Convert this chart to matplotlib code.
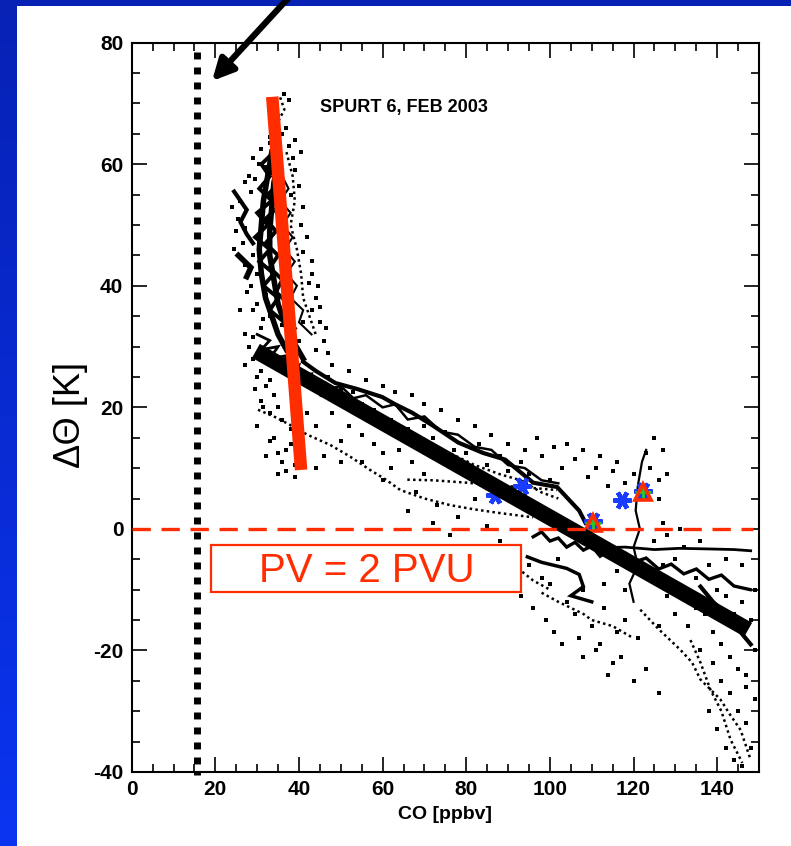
import numpy as np
import matplotlib
matplotlib.use('Agg')
import matplotlib.pyplot as plt
from matplotlib.colors import LinearSegmentedColormap
from matplotlib.patches import Rectangle
from matplotlib.ticker import MultipleLocator

plt.rcParams['font.family'] = ['Liberation Sans', 'DejaVu Sans']
plt.rcParams['axes.unicode_minus'] = False

# --- data (CO in ppbv, delta theta in K) ---
band_core_a_co = [33.5, 32.5, 31.5, 31, 30.5, 31, 32, 33.5, 35, 37]
band_core_a_dth = [62, 58, 54, 50, 46, 42, 38, 35, 32, 29.5]
band_core_b_co = [35, 34, 33.5, 33, 33, 34, 35, 36.5, 38.5, 41]
band_core_b_dth = [60, 57, 53, 49, 45, 41, 37, 34, 31, 28]
zig_a_co = [34, 31, 33, 30.5, 33.5, 30, 32.5, 29.5, 33, 30.5, 34, 31.5, 35, 33, 36.5]
zig_a_dth = [62, 60, 58, 56, 54, 52, 50, 48, 46, 44, 42, 40, 38, 36, 34]
zig_b_co = [35.5, 33, 35.5, 32.5, 35, 32, 34.5, 32, 35, 33, 36, 34.5, 37.5, 36, 39]
zig_b_dth = [61, 59, 57, 55, 53, 51, 49, 47, 45, 43, 41, 39, 37, 35, 33]
zig_c_co = [36, 37.5, 35.5, 38, 36, 38.5, 36.5, 39, 37, 39.5, 38, 41, 40, 43]
zig_c_dth = [58, 56, 54, 52, 50, 48, 46, 44, 42, 40, 38, 36, 34, 32]
band_right_co = [37, 38.5, 39, 38, 39.5, 40.5, 41, 42.5, 44]
band_right_dth = [62, 58, 54, 50, 46, 42, 38, 35, 32]
band_top_co = [35.5, 36.5, 35, 34.5, 35]
band_top_dth = [71, 69, 67, 64, 61]
left_blob_co = [24.5, 26, 27.5, 26, 27.5, 29]
left_blob_dth = [55.5, 54, 52.5, 50.5, 48.5, 47]
left_blob2_co = [25.5, 27, 28.5, 27.5]
left_blob2_dth = [45, 44, 43, 41.5]
trans_co = [30, 33, 31, 35, 33, 37, 36, 40, 39, 43, 42, 46, 45, 49]
trans_dth = [32, 31, 29.5, 30, 28, 28.5, 26.5, 27, 25, 25.5, 23.5, 24, 22.5, 23]

tongue_co = [41, 44, 48.7, 54, 59.9, 63, 67.1, 72, 78.1, 84, 89.3, 96, 101.7, 107, 108.5]
tongue_dth = [27.5, 26, 24, 23, 21.7, 20.5, 19.1, 17, 14.2, 12.5, 11.4, 7.6, 6.9, 3, 1]
tongue2_co = [44, 47, 50, 53, 56, 60, 63, 66, 70, 74, 78, 82, 86, 90, 94, 98, 102]
tongue2_dth = [24.5, 23, 23.5, 21.5, 22, 20, 20.5, 18, 18.5, 16, 15.5, 13.5, 13, 10.5, 10, 8, 7.5]
tongue_low_co = [45, 52, 58, 64, 70, 76, 82, 88, 93, 98, 102]
tongue_low_dth = [22, 20, 18.5, 16.5, 14, 12.5, 10.5, 9, 8, 6, 5]
trace_b_co = [65.9, 72, 80.2, 86, 92.9, 101.7]
trace_b_dth = [8.1, 8, 7.6, 7.2, 6.9, 6.4]
lower_branch_co = [30.2, 34, 37.9, 42, 47.5, 52, 57, 61, 64.2, 70, 76.2, 82, 88.1, 96]
lower_branch_dth = [19.6, 18.5, 17.1, 15.5, 13.8, 12, 9.7, 8, 6.4, 5, 3.9, 3.2, 2.6, 1.9]

line_band_co = [96, 98, 100, 102, 104, 106, 108, 110, 112, 114, 116, 118, 120, 123, 126,
                129, 132, 135, 138, 141, 144, 147.9]
line_band_dth = [-1.3, -0.5, -2, -1.5, -3, -2.2, -3.5, -2.8, -4.5, -3.6, -4.8, -4, -5.5, -4.8,
                 -6.6, -5.8, -7.4, -6.6, -8.3, -7.6, -9.4, -10]
right_flat_co = [112, 118, 125, 131, 138, 144, 148]
right_flat_dth = [-3.1, -3.0, -3.4, -3.2, -3.3, -3.4, -3.6]
vertical_co = [123, 122, 121, 120.5, 121.5, 120, 121, 119, 120]
vertical_dth = [13, 11, 7, 3, 0, -3, -6, -9, -12]
low_blob_co = [94.6, 98, 101, 104, 107, 108, 105, 110]
low_blob_dth = [-4.6, -5.5, -6, -6.5, -7.5, -9.5, -11, -12]
low_trace_co = [85.7, 89, 92.9, 96, 100]
low_trace_dth = [-5.1, -6, -6.8, -8.5, -10]
low_trace2_co = [98, 102, 105, 108, 110, 115, 120]
low_trace2_dth = [-10.5, -12, -13, -14, -15, -16, -18]
right_band_co = [136, 139, 142, 145, 148]
right_band_dth = [-9.5, -12, -14, -16.5, -19]
wisp1_co = [121.6, 126, 131.2, 134, 136, 138.5, 140.8, 143, 145.6, 148]
wisp1_dth = [-13.3, -16.5, -19.9, -22, -24.8, -26.5, -28.1, -30.5, -33.1, -38]
wisp2_co = [133.6, 136, 138.4, 141, 143.2, 146]
wisp2_dth = [-18.3, -22, -26.5, -30, -34.7, -38.5]

dots_co = [36.5, 37.5, 34, 36, 33, 37.5, 38.5, 30.5, 32, 39, 27, 29.5, 40, 26, 38, 41, 25.5, 27,
           40.5, 42, 26.5, 41, 29, 43, 27, 30, 42.5, 28.5, 32, 44, 30, 43, 33, 45, 36, 27, 29, 31,
           46, 40,
           30, 32, 34, 31, 35, 33, 36, 38, 34, 37, 36, 39, 32, 35, 44, 46, 50,
           47, 50, 53, 55, 58, 62, 64, 66, 70, 72, 75, 77, 80, 83, 85, 88, 90, 93, 95, 98, 100,
           103, 106, 109, 112, 115, 118, 123, 124, 126, 127,
           50, 55, 60, 62, 68, 70, 73, 78, 82, 85, 88, 90, 92, 95, 98, 100, 102, 104, 106, 108,
           110, 113, 116, 118, 112, 121, 108, 115,
           125, 128, 130, 132, 135, 138, 140, 142, 144, 146, 148, 130, 133, 136, 139, 141, 143,
           145, 147, 138, 140, 142, 144, 146, 148, 149, 147, 135, 128, 126]
dots_dth = [71.5, 70.5, 66, 65, 63.5, 63, 61, 60, 59.5, 59, 57, 57.5, 56.5, 54, 55, 53, 51, 49.5,
            50, 48, 47, 45.5, 45, 44, 43.5, 42, 40.5, 40, 38.5, 38, 37, 36, 35, 34, 33.5, 32, 31.5,
            33, 31, 31,
            25, 23.5, 22, 21, 20, 19, 18, 16.5, 15, 13, 11, 10.5, 12, 9, 10, 12, 11,
            25, 23, 22.5, 20.5, 19.5, 18, 20, 16.5, 17, 15, 16, 13, 12.5, 14, 10.5, 12, 9.5, 11, 9,
            12, 8, 10, 11.5, 8.5, 12, 9.5, 7.5, 12.5, 10, 8, 13,
            14.5, 11, 8, 10, 6, 9, 4, 2, 5, 0.5, -2, -4.5, -3, -6, -8, -9, -5, -12, -14, -10,
            -16, -13, -17, -15, -19, -18, -21, -22,
            -2, -1, -5, -3, -8, -6, -10, -11, -14, -12, -15, -14, -16, -20, -22, -25, -27,
            -30, -32, -30, -33, -36, -38, -39, -36, -28, -24, -13, -11, -16]
more_dots = [(28, 58), (29, 61), (31, 62.5), (33, 64.5), (35, 68), (37, 66), (39, 64), (40.5, 62),
             (28.5, 55.5), (24, 53), (25, 49), (24.5, 46), (27.5, 39), (29, 36), (31.5, 34.5),
             (26, 36), (43, 42), (44.5, 40), (45, 36.5), (46.5, 33), (47, 29), (48, 27), (44, 29.5),
             (41, 34), (29, 28), (28, 30), (27, 27), (31, 26), (33, 24.5), (29.5, 23), (31.5, 20),
             (30, 17), (33, 14.5), (35, 12.5), (38, 14), (39, 8.5), (37, 9.5), (42, 19), (44, 17),
             (48, 19), (52, 17), (55, 15.5), (58, 14), (60, 12.5), (64, 13), (67, 11), (52, 26),
             (56, 24.5), (60, 23.5), (63, 22.5), (67, 22), (70, 20.5), (74, 19.5), (78, 18),
             (82, 17), (86, 15.5), (90, 14), (94, 13), (97, 15), (101, 13.5), (104, 14), (108, 13),
             (111, 10), (114, 7), (116, 11), (120, 9), (125, 15), (126, 5), (128, 9), (66, 3),
             (72, 1), (76, -1), (80, -3), (84, -4), (86, -8), (90, -9), (93, -11), (96, -13),
             (99, -15), (101, -17), (103, -19), (107, -18), (111, -20), (114, -24), (117, -21),
             (120, -25), (123, -23), (126, -27), (124, -8), (127, -6), (130, -9), (133, -11),
             (137, -14), (139, -17), (141, -19), (143, -21), (145, -23), (147, -26), (149, -20),
             (149, -10), (146, -6), (142, -5), (136, -2), (131, 0), (127, 1), (116, -7), (113, -9),
             (118, -10)]

# case markers
star_co = [86.9, 93.3, 117.2, 110.4, 122.2]
star_dth = [5.6, 7.0, 4.8, 1.3, 6.3]
tri_co = [110.4, 122.2]
tri_dth = [1.05, 6.0]

# fitted lines
red_fit_co = [33.6, 40.5]
red_fit_dth = [71.1, 9.7]
black_fit_co = [29.7, 147.4]
black_fit_dth = [29.3, -16.6]

RED = '#ff2d00'

fig = plt.figure(figsize=(7.91, 8.46), dpi=100)

# slide background: blue gradient with white panel
bg = fig.add_axes([0, 0, 1, 1], zorder=-2)
grad = np.linspace(0, 1, 256).reshape(-1, 1)
cmap = LinearSegmentedColormap.from_list('slide', ['#0621b4', '#0a34f0'])
bg.imshow(grad, aspect='auto', cmap=cmap, extent=[0, 1, 0, 1], origin='upper')
bg.axis('off')
fig.patches.append(Rectangle((17 / 791, 0), 1, 1 - 6 / 846, transform=fig.transFigure,
                             facecolor='white', edgecolor='none', zorder=-1))

ax = fig.add_axes([0.1665, 0.0875, 0.7931, 0.8620])
ax.set_xlim(0, 150)
ax.set_ylim(-40, 80)

# measurement cloud
for co, dth, lw in [(band_core_a_co, band_core_a_dth, 4), (band_core_b_co, band_core_b_dth, 4),
                    (zig_a_co, zig_a_dth, 2.8), (zig_b_co, zig_b_dth, 2.8), (zig_c_co, zig_c_dth, 1.5),
                    (left_blob_co, left_blob_dth, 3), (left_blob2_co, left_blob2_dth, 4),
                    (trans_co, trans_dth, 2), (tongue_co, tongue_dth, 3),
                    (tongue2_co, tongue2_dth, 1.8), (line_band_co, line_band_dth, 2.4),
                    (right_flat_co, right_flat_dth, 2), (vertical_co, vertical_dth, 1.6),
                    (low_blob_co, low_blob_dth, 2.5), (right_band_co, right_band_dth, 3)]:
    ax.plot(co, dth, color='k', lw=lw, solid_joinstyle='miter', zorder=2)
for co, dth in [(band_right_co, band_right_dth), (band_top_co, band_top_dth),
                (tongue_low_co, tongue_low_dth), (trace_b_co, trace_b_dth),
                (lower_branch_co, lower_branch_dth), (low_trace_co, low_trace_dth),
                (low_trace2_co, low_trace2_dth), (wisp1_co, wisp1_dth), (wisp2_co, wisp2_dth)]:
    ax.plot(co, dth, color='k', lw=1.8, ls=(0, (1, 1.3)), zorder=2)
ax.scatter(dots_co, dots_dth, s=5, marker='s', color='k', linewidths=0, zorder=2)
md_co, md_dth = zip(*more_dots)
ax.scatter(md_co, md_dth, s=5, marker='s', color='k', linewidths=0, zorder=2)

# case markers
ax.plot(star_co, star_dth, ls='none', marker=(6, 2, 90), ms=13, mew=3.2, color='#1a3cff', zorder=3)
ax.plot(tri_co, tri_dth, ls='none', marker='+', ms=11, mew=2, color='#22cc22', zorder=4)
ax.plot(tri_co, tri_dth, ls='none', marker='^', ms=12, mew=2.6, mfc='none', mec=RED, zorder=5)

# fits
ax.plot(black_fit_co, black_fit_dth, color='k', lw=11.5, solid_capstyle='butt', zorder=6)
ax.plot(red_fit_co, red_fit_dth, color=RED, lw=9, solid_capstyle='butt', zorder=7)

# tropopause line and CO background line
ax.plot([0, 148.5], [0, 0], color=RED, lw=2.4, ls=(0, (5.5, 3.2)), zorder=8)
ax.plot([15.7, 15.7], [78.5, -40.5], color='k', lw=5, ls=(0, (1, 1.16)), zorder=8, clip_on=False)

ax.add_patch(Rectangle((19.0, -10.46), 74.1, 7.86, facecolor='white', edgecolor=RED, lw=1.6, zorder=9))
ax.text(56.1, -6.9, 'PV = 2 PVU', color=RED, fontsize=29, ha='center', va='center', zorder=10)

ax.text(45, 69.3, 'SPURT 6, FEB 2003', fontsize=13, fontweight='bold', ha='left', va='center')

ax.annotate('', xy=(19.2, 73.7), xycoords='data', xytext=(292, 852), textcoords='figure pixels',
            arrowprops=dict(arrowstyle='-|>', color='k', lw=4.5, mutation_scale=32,
                            shrinkA=0, shrinkB=0),
            annotation_clip=False, zorder=11)

# axes styling
ax.xaxis.set_major_locator(MultipleLocator(20))
ax.xaxis.set_minor_locator(MultipleLocator(5))
ax.yaxis.set_major_locator(MultipleLocator(20))
ax.yaxis.set_minor_locator(MultipleLocator(5))
ax.tick_params(which='both', direction='in', top=True, right=True, width=1.2, colors='k')
ax.tick_params(which='major', length=11, pad=6)
ax.tick_params(which='minor', length=6)
for lab in ax.get_xticklabels() + ax.get_yticklabels():
    lab.set_fontweight('bold')
    lab.set_fontsize(15)
for sp in ax.spines.values():
    sp.set_linewidth(1.5)

ax.text(0.5, -0.058, 'CO [ppbv]', transform=ax.transAxes, fontsize=14, fontweight='bold',
        ha='center', va='center')
ax.text(-0.098, 0.49, 'ΔΘ [K]', transform=ax.transAxes, fontsize=26, rotation=90,
        ha='center', va='center')

fig.savefig('out.png', dpi=100)
